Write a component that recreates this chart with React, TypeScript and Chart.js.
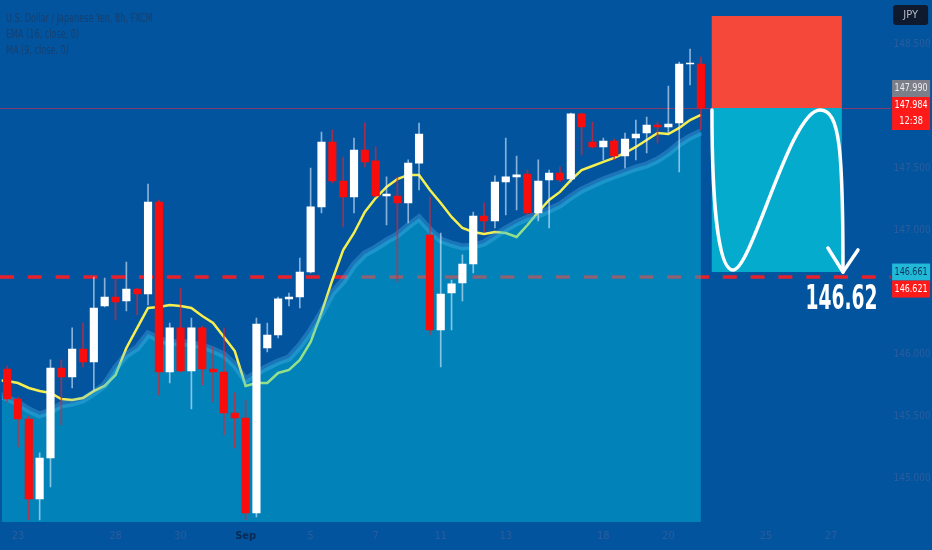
import React, { useEffect, useRef } from 'react';
import { Chart, registerables } from 'chart.js';

Chart.register(...registerables);

const BG = '#03549f';
const FONT = "'Liberation Sans Narrow', 'DejaVu Sans Condensed', 'Roboto Condensed', 'Liberation Sans', Arial, sans-serif";

// ---- categories (8h bars) ----
const tradingDays = ['Aug 22', 'Aug 23', 'Aug 24', 'Aug 25', 'Aug 28', 'Aug 29', 'Aug 30', 'Aug 31', 'Sep 1', 'Sep 4', 'Sep 5', 'Sep 6', 'Sep 7', 'Sep 8', 'Sep 11', 'Sep 12', 'Sep 13', 'Sep 14', 'Sep 15', 'Sep 18', 'Sep 19', 'Sep 20', 'Sep 21', 'Sep 22', 'Sep 25', 'Sep 26', 'Sep 27', 'Sep 28'];
const sessions = ['00:00', '08:00', '16:00'];
const categories = tradingDays.flatMap((d) => sessions.map((s) => `${d} ${s}`)).slice(1);

const xTickDays = ['Aug 23', 'Aug 28', 'Aug 30', 'Sep 1', 'Sep 5', 'Sep 7', 'Sep 11', 'Sep 13', 'Sep 18', 'Sep 20', 'Sep 25', 'Sep 27'];
const xTickText = ['23', '28', '30', 'Sep', '5', '7', '11', '13', '18', '20', '25', '27'];

// ---- OHLC (first entry = bar before the visible range) ----
const opens = [null,
  145.879, 145.637, 145.476, 144.831, 145.161, 145.887, 145.815, 146.040, 145.936, 146.387,
  146.460, 146.428, 146.524, 146.484, 147.226, 145.855, 146.210, 145.863, 146.210, 145.879,
  145.855, 145.524, 145.484, 144.718, 146.049, 146.153, 146.444, 146.460, 146.661, 147.186,
  147.710, 147.395, 147.266, 147.645, 147.557, 147.274, 147.274, 147.218, 147.540, 146.960,
  146.194, 146.492, 146.573, 146.726, 147.113, 147.073, 147.387, 147.428, 147.452, 147.137,
  147.403, 147.460, 147.411, 147.936, 147.710, 147.670, 147.718, 147.597, 147.742, 147.782,
  147.847, 147.831, 147.863, 148.339, 148.339];
const highs = [null,
  145.903, 145.653, 145.500, 145.202, 145.952, 145.952, 146.210, 146.250, 146.621, 146.613,
  146.621, 146.742, 146.532, 147.371, 147.242, 146.250, 146.532, 146.290, 146.226, 146.057,
  146.210, 145.686, 145.629, 146.290, 146.250, 146.460, 146.492, 146.774, 147.500, 147.790,
  147.807, 147.589, 147.742, 147.863, 147.670, 147.428, 147.428, 147.565, 147.863, 147.266,
  146.976, 146.597, 146.799, 147.145, 147.218, 147.436, 147.742, 147.597, 147.484, 147.565,
  147.484, 147.508, 147.944, 147.944, 147.871, 147.742, 147.734, 147.782, 147.887, 147.911,
  147.871, 148.161, 148.355, 148.460, 148.395];
const lows = [null,
  145.613, 145.250, 144.661, 144.661, 144.928, 145.428, 145.726, 145.895, 145.710, 146.379,
  146.274, 146.347, 146.315, 146.395, 145.670, 145.766, 145.855, 145.557, 145.750, 145.613,
  145.347, 145.242, 144.661, 144.686, 146.016, 146.129, 146.387, 146.371, 146.653, 147.137,
  147.379, 147.024, 147.137, 147.508, 147.266, 147.040, 146.581, 147.057, 147.323, 146.153,
  145.895, 146.194, 146.428, 146.653, 146.984, 147.016, 147.121, 147.161, 147.121, 147.073,
  147.016, 147.387, 147.387, 147.605, 147.662, 147.565, 147.565, 147.500, 147.565, 147.621,
  147.702, 147.782, 147.468, 148.170, 147.807];
const closes = [null,
  145.637, 145.476, 144.831, 145.161, 145.887, 145.815, 146.040, 145.936, 146.371, 146.460,
  146.420, 146.524, 146.484, 147.226, 145.855, 146.210, 145.863, 146.210, 145.879, 145.855,
  145.524, 145.484, 144.718, 146.242, 146.153, 146.444, 146.460, 146.661, 147.186, 147.710,
  147.395, 147.266, 147.645, 147.549, 147.274, 147.290, 147.218, 147.540, 147.774, 146.194,
  146.484, 146.565, 146.726, 147.113, 147.073, 147.387, 147.428, 147.444, 147.137, 147.395,
  147.460, 147.403, 147.936, 147.831, 147.670, 147.718, 147.597, 147.734, 147.774, 147.847,
  147.831, 147.855, 148.339, 148.347, 147.984];

// ---- indicators ----
const maValues = [145.790,
  145.782, 145.766, 145.726, 145.702, 145.686, 145.637, 145.629, 145.645, 145.700, 145.742,
  145.831, 146.049, 146.210, 146.371, 146.379, 146.395, 146.387, 146.371, 146.307, 146.250,
  146.137, 146.024, 145.742, 145.766, 145.766, 145.847, 145.871, 145.952, 146.097, 146.331,
  146.597, 146.839, 146.976, 147.145, 147.258, 147.347, 147.411, 147.444, 147.444, 147.323,
  147.218, 147.105, 147.016, 146.984, 146.968, 146.984, 146.976, 146.944, 147.040, 147.145,
  147.242, 147.307, 147.403, 147.484, 147.516, 147.549, 147.581, 147.621, 147.670, 147.726,
  147.782, 147.774, 147.823, 147.887, 147.928];
const emaValues = [145.677,
  145.645, 145.605, 145.549, 145.508, 145.540, 145.589, 145.605, 145.629, 145.686, 145.750,
  145.887, 145.992, 146.049, 146.161, 146.121, 146.089, 146.097, 146.081, 146.065, 146.032,
  145.992, 145.911, 145.790, 145.847, 145.895, 145.936, 145.968, 146.065, 146.186, 146.331,
  146.492, 146.589, 146.718, 146.807, 146.855, 146.911, 146.960, 147.032, 147.097, 147.000,
  146.920, 146.887, 146.863, 146.871, 146.895, 146.952, 147.008, 147.057, 147.097, 147.121,
  147.161, 147.202, 147.266, 147.323, 147.363, 147.403, 147.436, 147.468, 147.500, 147.524,
  147.565, 147.621, 147.694, 147.750, 147.790];

// ---- axis / levels ----
const yMin = 144.645;
const yMax = 148.855;
const yTicks = [145.0, 145.5, 146.0, 147.0, 147.5, 148.5];
const lastPrice = 147.984;
const askPrice = 147.99;
const countdown = '12:38';
const targetLevel = 146.621;
const targetText = '146.62';

// position tool (short): bar indices and prices
const posStartIdx = 66;
const posEndIdx = 78;
const stopPrice = 148.726;
const entryPrice = 147.984;
const tpPrice = 146.661;

// hand-drawn arrow in (bar index, price)
const arrowStart = [66.02, 147.968];
const arrowCurves = [
  [[66.02, 147.242], [66.57, 146.677], [67.96, 146.677]],
  [[69.71, 146.677], [73.22, 147.968], [75.99, 147.968]],
  [[77.83, 147.968], [78.11, 147.645], [78.11, 146.661]],
];
const arrowHead = [[76.72, 146.855], [78.11, 146.661], [79.49, 146.839]];

const tvPlugin = {
  id: 'tvOverlay',
  beforeDatasetsDraw(chart: any) {
    const { ctx, chartArea, scales } = chart;
    const y = scales.y;
    ctx.save();
    const yp = Math.round(y.getPixelForValue(lastPrice)) + 0.5;
    ctx.strokeStyle = 'rgba(235,45,70,0.55)';
    ctx.lineWidth = 1;
    ctx.beginPath();
    ctx.moveTo(0, yp);
    ctx.lineTo(chartArea.right, yp);
    ctx.stroke();
    const yt = y.getPixelForValue(targetLevel);
    ctx.strokeStyle = '#e8202c';
    ctx.lineWidth = 3.5;
    ctx.setLineDash([14, 13.8]);
    ctx.beginPath();
    ctx.moveTo(0, yt);
    ctx.lineTo(chartArea.right, yt);
    ctx.stroke();
    ctx.restore();
  },
  afterDatasetsDraw(chart: any) {
    const { ctx, scales } = chart;
    const x = scales.x;
    const y = scales.y;
    const px = (p: number[]) => [x.getPixelForValue(p[0]), y.getPixelForValue(p[1])];
    ctx.save();
    const x0 = x.getPixelForValue(posStartIdx);
    const x1 = x.getPixelForValue(posEndIdx);
    const ys = y.getPixelForValue(stopPrice);
    const ye = y.getPixelForValue(entryPrice);
    const yt = y.getPixelForValue(tpPrice);
    ctx.fillStyle = '#f5483b';
    ctx.fillRect(x0, ys, x1 - x0, ye - ys);
    ctx.fillStyle = '#05abcc';
    ctx.fillRect(x0, ye, x1 - x0, yt - ye);

    ctx.strokeStyle = '#ffffff';
    ctx.lineWidth = 3.5;
    ctx.lineCap = 'round';
    ctx.lineJoin = 'round';
    ctx.beginPath();
    const s = px(arrowStart);
    ctx.moveTo(s[0], s[1]);
    arrowCurves.forEach((c) => {
      const a = px(c[0]);
      const b = px(c[1]);
      const e = px(c[2]);
      ctx.bezierCurveTo(a[0], a[1], b[0], b[1], e[0], e[1]);
    });
    ctx.stroke();
    ctx.beginPath();
    arrowHead.forEach((p, k) => {
      const q = px(p);
      if (k === 0) ctx.moveTo(q[0], q[1]);
      else ctx.lineTo(q[0], q[1]);
    });
    ctx.stroke();

    const tl = y.getPixelForValue(targetLevel);
    ctx.fillStyle = '#ffffff';
    ctx.font = `600 33px ${FONT}`;
    ctx.textAlign = 'center';
    ctx.textBaseline = 'alphabetic';
    ctx.fillText(targetText, x.getPixelForValue(77.97), tl + 32, 72);
    ctx.restore();
  },
  afterDraw(chart: any) {
    const { ctx, scales } = chart;
    const y = scales.y;
    const ax = y.left + 1.5;
    const w = 38;
    ctx.save();
    ctx.font = `11px ${FONT}`;
    ctx.textAlign = 'center';
    ctx.textBaseline = 'middle';
    const box = (top: number, h: number, fill: string, texts: string[], color: string) => {
      ctx.fillStyle = fill;
      ctx.fillRect(ax, top, w, h);
      ctx.fillStyle = color;
      texts.forEach((t, k) => ctx.fillText(t, ax + w / 2, top + 8.5 + k * 16, (t.length * 33) / 7));
    };
    // currency badge
    ctx.fillStyle = '#0f1a2e';
    ctx.beginPath();
    ctx.roundRect(ax + 1, 5, 35, 20, 3);
    ctx.fill();
    ctx.fillStyle = '#b8bcc6';
    ctx.fillText('JPY', ax + 18.5, 15.5);

    const ye = y.getPixelForValue(lastPrice);
    box(ye - 11 - 17, 17, '#7c7f8a', [askPrice.toFixed(3)], '#eceef2');
    box(ye - 11, 33, '#ff1a1a', [lastPrice.toFixed(3), countdown], '#ffffff');
    const yt = y.getPixelForValue(tpPrice);
    box(yt - 8.5, 17, '#22b8d8', [tpPrice.toFixed(3)], '#0c3558');
    box(yt + 8.5, 17, '#ff1a1a', [targetLevel.toFixed(3)], '#ffffff');
    ctx.restore();
  },
};

export default function App() {
  const ref = useRef<HTMLCanvasElement | null>(null);

  useEffect(() => {
    if (!ref.current) return;
    const bodyData = categories.map((_, i) => (opens[i] == null ? null : [opens[i], closes[i]]));
    const wickData = categories.map((_, i) => (lows[i] == null ? null : [lows[i], highs[i]]));
    const up = categories.map((_, i) => (closes[i] as number) >= (opens[i] as number));
    const chart = new Chart(ref.current, {
      type: 'bar',
      data: {
        labels: categories,
        datasets: [
          {
            type: 'bar',
            label: 'Body',
            data: bodyData as any,
            backgroundColor: up.map((u) => (u ? '#ffffff' : '#f80c0c')),
            barThickness: 7.5,
            grouped: false,
            borderWidth: 0,
            minBarLength: 1,
            order: 0,
          },
          {
            type: 'bar',
            label: 'Wick',
            data: wickData as any,
            backgroundColor: up.map((u) => (u ? 'rgba(225,240,255,0.6)' : 'rgba(235,30,40,0.7)')),
            barThickness: 1,
            grouped: false,
            borderWidth: 0,
            order: 1,
          },
          {
            type: 'line',
            label: 'EMA (16, close, 0)',
            data: emaValues,
            borderColor: 'rgba(90,195,245,0.3)',
            borderWidth: 7,
            backgroundColor: 'rgba(0,201,225,0.4)',
            fill: 'start',
            pointRadius: 0,
            tension: 0,
            order: 2,
          },
          {
            type: 'line',
            label: 'MA (9, close, 0)',
            data: maValues,
            borderColor: '#f7ef4f',
            borderWidth: 2.5,
            fill: false,
            pointRadius: 0,
            tension: 0,
            order: 3,
          },
        ],
      },
      options: {
        responsive: false,
        animation: false,
        devicePixelRatio: 1,
        events: [],
        layout: { padding: { left: 1.7, top: 0, right: 0, bottom: 0 } },
        plugins: { legend: { display: false }, tooltip: { enabled: false } },
        scales: {
          x: {
            type: 'category',
            min: categories[1],
            max: categories[82],
            offset: true,
            grid: { display: false, drawTicks: false },
            border: { display: false },
            afterFit: (s: any) => {
              s.height = 28;
              s.paddingLeft = 0;
              s.paddingRight = 0;
            },
            ticks: {
              autoSkip: false,
              maxRotation: 0,
              padding: 8,
              font: (c: any) => ({ family: FONT, size: 11, weight: c.tick && c.tick.label === 'Sep' ? 'bold' : 'normal' }),
              color: (c: any) => (c.tick && c.tick.label === 'Sep' ? '#0b2a55' : '#2a5c9c'),
              callback: (v: any) => {
                const lab = categories[Number(v)] || '';
                const parts = lab.split(' ');
                const day = parts[0] + ' ' + parts[1];
                const k = xTickDays.indexOf(day);
                return k >= 0 && parts[2] === '00:00' ? xTickText[k] : '';
              },
            },
          },
          y: {
            type: 'linear',
            position: 'right',
            min: yMin,
            max: yMax,
            grid: { display: false, drawTicks: false },
            border: { display: false },
            afterBuildTicks: (s: any) => {
              s.ticks = yTicks.map((v) => ({ value: v }));
            },
            afterFit: (s: any) => {
              s.width = 41.4;
              s.paddingTop = 0;
              s.paddingBottom = 0;
            },
            ticks: {
              padding: 3,
              font: { family: FONT, size: 10 },
              color: '#2a5c9c',
              callback: (v: any) => Number(v).toFixed(3),
            },
          },
        },
      } as any,
      plugins: [tvPlugin],
    });
    return () => chart.destroy();
  }, []);

  const legendStyle: React.CSSProperties = {
    position: 'absolute',
    left: 6,
    top: 10,
    fontFamily: FONT,
    fontSize: 12,
    lineHeight: '16px',
    color: '#17406f',
    whiteSpace: 'nowrap',
    transform: 'scaleX(0.75)',
    transformOrigin: '0 0',
  };

  return (
    <div style={{ position: 'absolute', left: 0, top: 0, width: 932, height: 550, background: BG, overflow: 'hidden' }}>
      <canvas ref={ref} width={932} height={550} style={{ display: 'block', width: 932, height: 550 }} />
      <div style={legendStyle}>
        <div>U.S. Dollar / Japanese Yen, 8h, FXCM</div>
        <div>EMA (16, close, 0)</div>
        <div>MA (9, close, 0)</div>
      </div>
    </div>
  );
}
